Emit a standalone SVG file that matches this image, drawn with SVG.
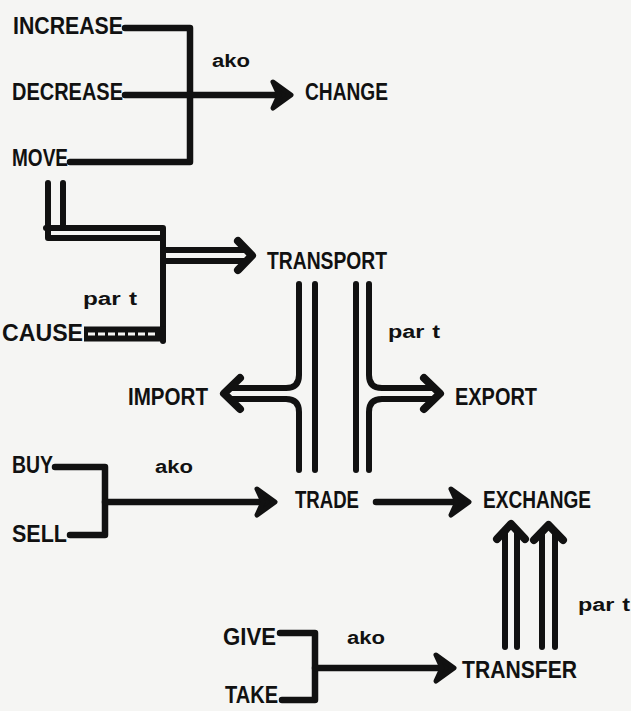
<svg xmlns="http://www.w3.org/2000/svg" width="631" height="711" viewBox="0 0 631 711">
<style>
.bg{fill:#f5f5f3}
.cap{font-family:"Liberation Sans",Arial,sans-serif;font-weight:bold;font-size:24px;fill:#111}
.low{font-family:"Liberation Sans",Arial,sans-serif;font-weight:bold;font-size:18px;fill:#111}
.ln{fill:none;stroke:#111;stroke-width:6.5;stroke-linecap:round;stroke-linejoin:round}
.dl{fill:none;stroke:#111;stroke-width:6;stroke-linecap:round;stroke-linejoin:round}
.hd{fill:none;stroke:#111;stroke-width:8;stroke-linecap:round;stroke-linejoin:round}
.ah{fill:#111;stroke:#111;stroke-width:5;stroke-linejoin:round}
.gap{fill:none;stroke:#f5f5f3;stroke-width:3;stroke-dasharray:7 3}
</style>
<rect class="bg" x="0" y="0" width="631" height="711"/>

<g id="connectors">
  <!-- INCREASE/DECREASE/MOVE ako CHANGE -->
  <path class="ln" d="M125,28 H190 V162 H70"/>
  <path class="ln" d="M125,95 H280"/>
  <polygon class="ah" points="273,82 291,95 273,108 279,95"/>

  <!-- MOVE / CAUSE part TRANSPORT -->
  <path class="dl" d="M48,183 V238 H160"/>
  <path class="dl" d="M63,183 V228"/>
  <path class="dl" d="M46,228 H163 V341"/>
  <line x1="84" y1="334" x2="166" y2="334" stroke="#111" stroke-width="15" stroke-linecap="butt"/>
  <line class="gap" x1="88" y1="334" x2="158" y2="334"/>
  <path class="dl" d="M163,250 H246"/>
  <path class="dl" d="M163,261 H246"/>
  <polyline class="hd" points="238,241 252,255.5 238,270"/>

  <!-- TRANSPORT part TRADE, IMPORT, EXPORT -->
  <path class="dl" d="M299,284 V375 Q299,388 286,388 H231"/>
  <path class="dl" d="M231,399 H286 Q299,399 299,412 V470"/>
  <path class="dl" d="M315,284 V470"/>
  <path class="dl" d="M356,284 V470"/>
  <path class="dl" d="M369,284 V375 Q369,388 382,388 H433"/>
  <path class="dl" d="M433,399 H382 Q369,399 369,412 V470"/>
  <polyline class="hd" points="240,378 224,393.5 240,409"/>
  <polyline class="hd" points="424,378 440,393.5 424,409"/>

  <!-- BUY/SELL ako TRADE -->
  <path class="ln" d="M55,467 H105 V535 H70"/>
  <path class="ln" d="M105,502 H264"/>
  <polygon class="ah" points="257,489 275,502 257,515 263,502"/>

  <!-- TRADE -> EXCHANGE -->
  <path class="ln" d="M376,502 H458"/>
  <polygon class="ah" points="451,489 469,502 451,515 457,502"/>

  <!-- TRANSFER part EXCHANGE -->
  <path class="dl" d="M505,647 V532"/>
  <path class="dl" d="M517,647 V532"/>
  <polyline class="hd" points="497,539 511,524 525,539"/>
  <path class="dl" d="M542,647 V533"/>
  <path class="dl" d="M555,647 V533"/>
  <polyline class="hd" points="534,540 548.5,525 563,540"/>

  <!-- GIVE/TAKE ako TRANSFER -->
  <path class="ln" d="M280,633 H315 V700 H282"/>
  <path class="ln" d="M315,668 H443"/>
  <polygon class="ah" points="436,655 454,668 436,681 442,668"/>

  <text class="low" x="212" y="67" textLength="38" lengthAdjust="spacingAndGlyphs">ako</text>
  <text class="low" x="83" y="305" textLength="54" lengthAdjust="spacingAndGlyphs">par<tspan dx="6">t</tspan></text>
  <text class="low" x="388" y="338" textLength="52" lengthAdjust="spacingAndGlyphs">par<tspan dx="6">t</tspan></text>
  <text class="low" x="155" y="473" textLength="38" lengthAdjust="spacingAndGlyphs">ako</text>
  <text class="low" x="347" y="644" textLength="38" lengthAdjust="spacingAndGlyphs">ako</text>
  <text class="low" x="578" y="611" textLength="52" lengthAdjust="spacingAndGlyphs">par<tspan dx="6">t</tspan></text>
</g>

<g id="increase"><text class="cap" x="13" y="34" textLength="110" lengthAdjust="spacingAndGlyphs">INCREASE</text></g>
<g id="decrease"><text class="cap" x="12" y="100" textLength="111" lengthAdjust="spacingAndGlyphs">DECREASE</text></g>
<g id="move"><text class="cap" x="12" y="166" textLength="56" lengthAdjust="spacingAndGlyphs">MOVE</text></g>
<g id="change"><text class="cap" x="305" y="100" textLength="83" lengthAdjust="spacingAndGlyphs">CHANGE</text></g>
<g id="transport"><text class="cap" x="267" y="269" textLength="120" lengthAdjust="spacingAndGlyphs">TRANSPORT</text></g>
<g id="cause"><text class="cap" x="2" y="341" textLength="81" lengthAdjust="spacingAndGlyphs">CAUSE</text></g>
<g id="import"><text class="cap" x="128" y="405" textLength="80" lengthAdjust="spacingAndGlyphs">IMPORT</text></g>
<g id="export"><text class="cap" x="455" y="405" textLength="82" lengthAdjust="spacingAndGlyphs">EXPORT</text></g>
<g id="buy"><text class="cap" x="12" y="473" textLength="41" lengthAdjust="spacingAndGlyphs">BUY</text></g>
<g id="sell"><text class="cap" x="12" y="542" textLength="55" lengthAdjust="spacingAndGlyphs">SELL</text></g>
<g id="trade"><text class="cap" x="295" y="508" textLength="64" lengthAdjust="spacingAndGlyphs">TRADE</text></g>
<g id="exchange"><text class="cap" x="483" y="508" textLength="108" lengthAdjust="spacingAndGlyphs">EXCHANGE</text></g>
<g id="give"><text class="cap" x="223" y="645" textLength="53" lengthAdjust="spacingAndGlyphs">GIVE</text></g>
<g id="take"><text class="cap" x="225" y="703" textLength="53" lengthAdjust="spacingAndGlyphs">TAKE</text></g>
<g id="transfer"><text class="cap" x="462" y="678" textLength="115" lengthAdjust="spacingAndGlyphs">TRANSFER</text></g>
</svg>
